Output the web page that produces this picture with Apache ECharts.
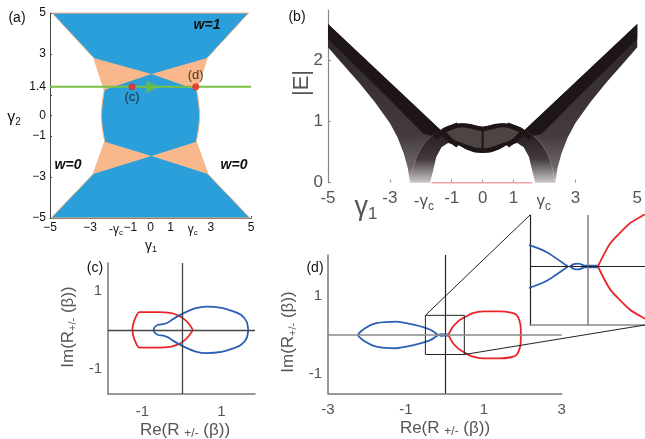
<!DOCTYPE html>
<html><head><meta charset="utf-8">
<script src="https://cdn.jsdelivr.net/npm/echarts@6/dist/echarts.min.js"></script>
<style>html,body{margin:0;background:#fff}#c{width:645px;height:439px}</style>
</head><body><div id="c"></div>
<script>
const FONT = '"Liberation Sans", Arial, sans-serif';
const GRAY = '#555';

// ── (a) phase diagram ──
const A_X_TICKS = [-5, -3, -1, 0, 1, 3, 5];
const A_X_LABEL_AT = [-5, -3, -1.72, -1, 0, 1, 2.1, 3, 5];
const A_X_LABELS = ['−5', '−3', '-γ{s|c}', '−1', '0', '1', 'γ{s|c}', '3', '5'];
const A_Y_AT = [5, 3, 1.4, 0, -1, -3, -5];
const A_Y_LABELS = ['5', '3', '1.4', '0', '−1', '−3', '−5'];
const A_BLUE = [[-4.9, 5], [4.88, 5], [2.82, 2.8], [2.3, 1.25], [2.4, 0.6], [2.45, 0], [2.4, -0.6], [2.28, -1.28],
  [2.85, -2.85], [4.95, -5], [-4.95, -5], [-2.85, -2.85], [-2.28, -1.28], [-2.4, -0.6], [-2.45, 0], [-2.4, 0.6], [-2.3, 1.25], [-2.82, 2.8]];
const A_OR_TL = [[-2.82, 2.8], [0.05, 2.02], [-2.3, 1.25]];
const A_OR_TR = [[2.82, 2.8], [0.05, 2.02], [2.3, 1.25]];
const A_OR_BL = [[-2.85, -2.85], [0.05, -1.98], [-2.28, -1.28]];
const A_OR_BR = [[2.85, -2.85], [0.05, -1.98], [2.28, -1.28]];
const A_PATH = [[-5, 1.4], [5, 1.4]];
const A_ARROW = [[0.1, 1.4]];
const A_POINTS = [[-0.92, 1.4], [2.25, 1.4]];
const A_POINT_NAMES = ['(c)', '(d)'];

// ── (b) |E| vs gamma1 ──
const B_X_TICKS = [-3, -1, 0, 1, 3];
const B_X_LABEL_AT = [-5, -3, -1.9, -1, 0, 1, 1.98, 3, 5];
const B_X_LABELS = ['-5', '-3', '-γ{s|c}', '-1', '0', '1', 'γ{s|c}', '3', '5'];
const B_Y_AT = [0, 1, 2];
const B_ARM_L = [[-5, 2.6], [-1.35, 0.86], [-1.65, 0.77], [-1.9, 0.64], [-2.1, 0.47], [-2.25, 0.25], [-2.35, 0],
  [-2.42, 0.24], [-2.55, 0.48], [-2.75, 0.74], [-3, 0.98], [-3.5, 1.33], [-4, 1.64], [-4.5, 1.93], [-5, 2.22]];
const B_ARM_R = [[5, 2.6], [1.35, 0.86], [1.65, 0.77], [1.9, 0.64], [2.1, 0.47], [2.25, 0.25], [2.35, 0],
  [2.42, 0.24], [2.55, 0.48], [2.75, 0.74], [3, 0.98], [3.5, 1.33], [4, 1.64], [4.5, 1.93], [5, 2.22]];
const B_DENSE_L = [[-5, 2.6], [-1.35, 0.86], [-1.65, 0.77], [-1.9, 0.8], [-2.3, 1.0], [-3, 1.36], [-4, 1.86], [-5, 2.36]];
const B_DENSE_R = [[5, 2.6], [1.35, 0.86], [1.65, 0.77], [1.9, 0.8], [2.3, 1.0], [3, 1.36], [4, 1.86], [5, 2.36]];
const B_ARCH_L = [[-2.35, 0], [-2.25, 0.25], [-2.1, 0.47], [-1.9, 0.64], [-1.65, 0.77], [-1.35, 0.86], [-0.96, 0.63],
  [-1.12, 0.65], [-1.33, 0.58], [-1.5, 0.42], [-1.6, 0.2], [-1.7, 0]];
const B_ARCH_R = [[2.35, 0], [2.25, 0.25], [2.1, 0.47], [1.9, 0.64], [1.65, 0.77], [1.35, 0.86], [0.96, 0.63],
  [1.12, 0.65], [1.33, 0.58], [1.5, 0.42], [1.6, 0.2], [1.7, 0]];
const B_LENS_TOP = [[-1.35, 0.86], [-1.1, 0.93], [-0.85, 0.965], [-0.64, 0.975], [-0.4, 0.96], [-0.18, 0.935], [0, 0.915],
  [0.18, 0.935], [0.4, 0.96], [0.64, 0.975], [0.85, 0.965], [1.1, 0.93], [1.35, 0.86]];
const B_LENS_TOP_IN = [[-1.2, 0.85], [-0.85, 0.9], [-0.64, 0.91], [-0.4, 0.89], [-0.18, 0.86], [0, 0.84],
  [0.18, 0.86], [0.4, 0.89], [0.64, 0.91], [0.85, 0.9], [1.2, 0.85]];
const B_LENS_BOT = [[0.96, 0.63], [0.75, 0.61], [0.54, 0.55], [0.27, 0.5], [0, 0.485], [-0.27, 0.5], [-0.54, 0.55], [-0.75, 0.61], [-0.96, 0.63]];
const B_LENS_BOT_IN = [[0.9, 0.69], [0.7, 0.66], [0.5, 0.62], [0.25, 0.575], [0, 0.56], [-0.25, 0.575], [-0.5, 0.62], [-0.7, 0.66], [-0.9, 0.69]];
const B_CROSS = [
  [[-1.35, 0.86], [-1.05, 0.7], [-0.8, 0.61]], [[-1.55, 0.74], [-1.2, 0.87], [-0.8, 0.95]],
  [[1.35, 0.86], [1.05, 0.7], [0.8, 0.61]], [[1.55, 0.74], [1.2, 0.87], [0.8, 0.95]]];
const B_CENTER = [[0, 0.5], [0, 0.9]];
const B_ZERO = [[-1.65, 0], [1.6, 0]];

// ── (c) ──
const C_RED = [[0.28, 0], [0.18, 0.15], [0.05, 0.28], [-0.1, 0.37], [-0.3, 0.43], [-0.6, 0.45], [-1.08, 0.45], [-1.17, 0.32],
  [-1.23, 0.15], [-1.25, 0], [-1.23, -0.15], [-1.17, -0.32], [-1.08, -0.45], [-0.6, -0.45], [-0.3, -0.43], [-0.1, -0.37],
  [0.05, -0.28], [0.18, -0.15], [0.28, 0]];
const C_BLUE = [[1.68, 0], [1.64, 0.21], [1.5, 0.38], [1.3, 0.47], [1.0, 0.56], [0.62, 0.59], [0.35, 0.55], [0.1, 0.45],
  [-0.1, 0.35], [-0.25, 0.26], [-0.33, 0.2], [-0.45, 0.15], [-0.6, 0.13], [-0.68, 0.08], [-0.71, 0], [-0.68, -0.08],
  [-0.6, -0.13], [-0.45, -0.15], [-0.33, -0.2], [-0.25, -0.26], [-0.1, -0.35], [0.1, -0.45], [0.35, -0.55], [0.62, -0.59],
  [1.0, -0.56], [1.3, -0.47], [1.5, -0.38], [1.64, -0.21], [1.68, 0]];
const C_X_AT = [-1, 1], C_X_LABELS = ['-1', '1'];
const C_Y_AT = [1, -1], C_Y_LABELS = ['1', '-1'];

// ── (d) ──
const D_BLUE = [[-0.17, 0], [-0.35, 0.12], [-0.5, 0.18], [-0.8, 0.26], [-1.24, 0.34], [-1.76, 0.3], [-2.05, 0.17], [-2.23, 0],
  [-2.05, -0.17], [-1.76, -0.3], [-1.24, -0.34], [-0.8, -0.26], [-0.5, -0.18], [-0.35, -0.12], [-0.17, 0]];
const D_BLUE_LOOP = [[-0.15, 0], [-0.12, 0.02], [-0.08, 0.025], [-0.04, 0.012], [-0.03, 0], [-0.04, -0.012], [-0.08, -0.025], [-0.12, -0.02], [-0.15, 0]];
const D_BLUE_SEG = [[-0.04, 0], [0.09, 0]];
const D_RED = [[0.09, 0], [0.2, 0.2], [0.37, 0.37], [0.47, 0.43], [0.7, 0.55], [1.0, 0.6], [1.4, 0.6], [1.7, 0.57], [1.84, 0.51],
  [1.92, 0.35], [1.95, 0.15], [1.95, 0], [1.95, -0.15], [1.92, -0.35], [1.84, -0.51], [1.7, -0.57], [1.4, -0.6], [1.0, -0.6],
  [0.7, -0.55], [0.47, -0.43], [0.37, -0.37], [0.2, -0.2], [0.09, 0]];
const D_BOX = [[-0.5, 0.5], [0.5, 0.5], [0.5, -0.5], [-0.5, -0.5], [-0.5, 0.5]];
const D_X_AT = [-3, -1, 1, 3], D_X_LABELS = ['-3', '-1', '1', '3'];
const D_Y_AT = [1, -1], D_Y_LABELS = ['1', '-1'];
const INSET_X = [-0.5, 0.5], INSET_Y = [-0.5, 0.44];

// ── helpers ──
const lab = (at, txt) => v => { const i = at.findIndex(a => Math.abs(a - v) < 1e-6); return i >= 0 ? txt[i] : ''; };

function poly(gi, pts, fill, z, stroke, lw) {
  return {
    type: 'custom', xAxisIndex: gi, yAxisIndex: gi, silent: true, z: z || 1, data: [pts[0]],
    renderItem: (p, api) => ({
      type: 'polygon', shape: { points: pts.map(q => api.coord(q)) },
      style: { fill: fill, stroke: stroke || null, lineWidth: lw || 0 }
    })
  };
}
function line(gi, data, color, width, z, extra) {
  return Object.assign({
    type: 'line', xAxisIndex: gi, yAxisIndex: gi, data: data, symbol: 'none', silent: true, z: z || 2,
    lineStyle: { color: color, width: width }
  }, extra || {});
}
function axis(gi, min, max, o) {
  return {
    gridIndex: gi, type: 'value', min: min, max: max, splitLine: { show: false },
    axisLine: { show: o.line !== false, onZero: false, lineStyle: { color: o.lineColor || '#777', width: o.lineWidth || 1.5 } },
    axisTick: o.ticks ? { show: true, inside: true, length: o.tickLen || 3, customValues: o.ticks, lineStyle: { color: o.tickColor || '#444' } } : { show: false },
    axisLabel: o.at ? {
      customValues: o.at, formatter: lab(o.at, o.labels), color: o.color || GRAY, fontSize: o.fs || 15,
      fontFamily: FONT, margin: o.margin || 6,
      rich: { s: { fontSize: o.sub || 10, color: o.color || GRAY, fontFamily: FONT, padding: [o.subPad || 8, 0, 0, 0] } }
    } : { show: false }
  };
}

const dark = '#1e1616';
const armFill = new echarts.graphic.LinearGradient(0, 0, 0, 1, [
  { offset: 0, color: '#2c2424' }, { offset: 0.7, color: '#443c3c' }, { offset: 0.9, color: '#6e6666' }, { offset: 1, color: '#cfc9c9' }]);
const archFill = new echarts.graphic.LinearGradient(0, 0, 0, 1, [
  { offset: 0, color: '#241c1c' }, { offset: 0.55, color: '#433b3b' }, { offset: 1, color: '#cdc7c7' }]);

const series = [
  // (a)
  poly(0, A_BLUE, '#2b9fd9', 1, '#f6b78c', 1),
  poly(0, A_OR_TL, '#f9b88b', 2), poly(0, A_OR_TR, '#f9b88b', 2),
  poly(0, A_OR_BL, '#f9b88b', 2), poly(0, A_OR_BR, '#f9b88b', 2),
  line(0, A_PATH, '#77c043', 2, 3),
  { type: 'scatter', xAxisIndex: 0, yAxisIndex: 0, data: A_ARROW, symbol: 'triangle', symbolSize: [13, 12],
    symbolRotate: -90, itemStyle: { color: '#6cbf3f' }, silent: true, z: 4 },
  { type: 'scatter', xAxisIndex: 0, yAxisIndex: 0, symbolSize: 7, itemStyle: { color: '#e8262a' }, silent: true, z: 5,
    data: A_POINTS.map((p, i) => ({ value: p, label: { show: true, formatter: A_POINT_NAMES[i], position: i ? 'top' : 'bottom',
      distance: 1, color: '#111', fontSize: 13, fontFamily: FONT } })) },
  // (b)
  poly(1, B_ARM_L, armFill, 1), poly(1, B_ARM_R, armFill, 1),
  poly(1, B_ARCH_L, archFill, 1), poly(1, B_ARCH_R, archFill, 1),
  poly(1, B_LENS_TOP.concat(B_LENS_BOT), '#4d4444', 1),
  poly(1, B_DENSE_L, dark, 2), poly(1, B_DENSE_R, dark, 2),
  poly(1, B_LENS_TOP.concat(B_LENS_TOP_IN.slice().reverse()), dark, 2),
  poly(1, B_LENS_BOT.concat(B_LENS_BOT_IN.slice().reverse()), dark, 2),
  ...B_CROSS.map(c => line(1, c, dark, 5, 3)),
  line(1, B_CENTER, dark, 2, 3),
  line(1, B_ZERO, '#f2a3a3', 1.5, 4, { clip: false }),
  // (c)
  line(2, C_RED, '#e8262a', 1.8, 3, { smooth: 0.2, markLine: { silent: true, symbol: 'none', label: { show: false },
    lineStyle: { color: '#444', width: 1.3, type: 'solid' }, data: [{ xAxis: 0 }, { yAxis: 0 }] } }),
  line(2, C_BLUE, '#2c5fb3', 1.8, 3, { smooth: 0.2 }),
  // (d)
  line(3, D_BLUE, '#2c5fb3', 1.8, 3, { smooth: 0.2, markLine: { silent: true, symbol: 'none', label: { show: false },
    animation: false, data: [{ xAxis: 0, lineStyle: { color: '#222', width: 1.2, type: 'solid' } },
      { yAxis: 0, lineStyle: { color: '#888', width: 1.6, type: 'solid' } }] } }),
  line(3, D_BLUE_LOOP, '#2c5fb3', 1.5, 3, { smooth: 0.3 }),
  line(3, D_BLUE_SEG, '#2c5fb3', 3, 3),
  line(3, D_RED, '#e8262a', 1.8, 3, { smooth: 0.2 }),
  line(3, D_BOX, '#222', 1, 4),
  // inset
  line(4, D_BLUE, '#2c5fb3', 1.8, 3, { smooth: 0.2, markLine: { silent: true, symbol: 'none', label: { show: false },
    data: [{ xAxis: 0, lineStyle: { color: '#888', width: 1.6, type: 'solid' } },
      { yAxis: 0, lineStyle: { color: '#222', width: 1.2, type: 'solid' } }] } }),
  line(4, D_BLUE_LOOP, '#2c5fb3', 1.8, 3, { smooth: 0.3 }),
  line(4, D_BLUE_SEG, '#2c5fb3', 3.5, 3),
  line(4, D_RED, '#e8262a', 1.8, 3, { smooth: 0.2 })
];

const txt = (x, y, text, size, color, extra, rich) => Object.assign({
  type: 'text', x: x, y: y, silent: true, z: 100,
  style: { text: text, font: size + 'px ' + FONT, fill: color, align: 'center', verticalAlign: 'middle', rich: rich || {} }
}, extra || {});
const sub = (size, pad, color) => ({ s: { fontSize: size, fontFamily: FONT, fill: color, padding: [pad, 0, 0, 0] } });
const wLabel = (x, y, text) => ({ type: 'text', x: x, y: y, silent: true, z: 100,
  style: { text: text, font: 'italic bold 14px ' + FONT, fill: '#111', align: 'center', verticalAlign: 'middle' } });

const graphics = [
  txt(17, 18, '(a)', 14, '#111'), txt(297, 17, '(b)', 14, '#111'),
  txt(95, 268, '(c)', 14, '#111'), txt(315, 268, '(d)', 14, '#111'),
  txt(14, 118, 'γ{s|2}', 16, '#111', {}, sub(10, 8, '#111')),
  txt(151, 246, 'γ{s|1}', 14, '#111', {}, sub(9, 7, '#111')),
  wLabel(207, 25, 'w=1'), wLabel(68, 165, 'w=0'), wLabel(234, 165, 'w=0'),
  txt(302, 83, '|E|', 22, GRAY, { rotation: Math.PI / 2 }),
  txt(366, 208, 'γ{s|1}', 27, GRAY, {}, sub(17, 12, GRAY)),
  txt(68, 327, 'Im(R{s|+/-} (β))', 17, GRAY, { rotation: Math.PI / 2 }, sub(11, 10, GRAY)),
  txt(185, 430, 'Re(R {s|+/-} (β))', 17, GRAY, {}, sub(12, 8, GRAY)),
  txt(288, 332, 'Im(R{s|+/-} (β))', 17, GRAY, { rotation: Math.PI / 2 }, sub(11, 10, GRAY)),
  txt(445, 428, 'Re(R {s|+/-} (β))', 17, GRAY, {}, sub(12, 8, GRAY))
];

const chart = echarts.init(document.getElementById('c'));
chart.setOption({
  animation: false,
  grid: [
    { left: 50, top: 13, width: 201, height: 205 },
    { left: 328, top: 10, width: 317, height: 172.7 },
    { left: 108, top: 263, width: 147, height: 131 },
    { left: 328, top: 255, width: 233.7, height: 138.3 },
    { left: 530, top: 215, width: 118.6, height: 110 }
  ],
  xAxis: [
    axis(0, -5, 5, { lineColor: '#444', lineWidth: 1, ticks: A_X_TICKS, tickLen: 2, at: A_X_LABEL_AT, labels: A_X_LABELS, color: '#111', fs: 12, sub: 8, subPad: 7, margin: 4 }),
    axis(1, -5, 5, { line: false, ticks: B_X_TICKS, tickLen: 3, tickColor: '#999', at: B_X_LABEL_AT, labels: B_X_LABELS, fs: 17, sub: 12, subPad: 11, margin: 7 }),
    axis(2, -1.87, 1.85, { at: C_X_AT, labels: C_X_LABELS, fs: 15, margin: 10 }),
    axis(3, -3, 3, { at: D_X_AT, labels: D_X_LABELS, fs: 15, margin: 9 }),
    axis(4, INSET_X[0], INSET_X[1], { lineColor: '#888', lineWidth: 1.6 })
  ],
  yAxis: [
    axis(0, -5, 5, { lineColor: '#444', lineWidth: 1, ticks: A_X_TICKS.concat([1.4]), tickLen: 2, at: A_Y_AT, labels: A_Y_LABELS, color: '#111', fs: 12, margin: 4 }),
    axis(1, 0, 2.83, { lineColor: '#888', lineWidth: 1.2, ticks: B_Y_AT, tickLen: 3, tickColor: '#888', at: B_Y_AT, labels: ['0', '1', '2'], fs: 17, margin: 5 }),
    axis(2, -1.63, 1.7, { at: C_Y_AT, labels: C_Y_LABELS, fs: 15, margin: 6 }),
    axis(3, -1.49, 2.04, { at: D_Y_AT, labels: D_Y_LABELS, fs: 15, margin: 6 }),
    axis(4, INSET_Y[0], INSET_Y[1], { lineColor: '#222', lineWidth: 1.2 })
  ],
  series: series,
  graphic: graphics
});

// zoom connectors between the box in (d) and the inset
const a1 = chart.convertToPixel({ gridIndex: 3 }, D_BOX[0]);
const a2 = chart.convertToPixel({ gridIndex: 4 }, [INSET_X[0], INSET_Y[1]]);
const b1 = chart.convertToPixel({ gridIndex: 3 }, D_BOX[2]);
const b2 = chart.convertToPixel({ gridIndex: 4 }, [INSET_X[1], INSET_Y[0]]);
chart.setOption({
  graphic: graphics.concat([
    { type: 'line', silent: true, z: 100, shape: { x1: a1[0], y1: a1[1], x2: a2[0], y2: a2[1] }, style: { stroke: '#222', lineWidth: 1 } },
    { type: 'line', silent: true, z: 100, shape: { x1: b1[0], y1: b1[1], x2: b2[0], y2: b2[1] }, style: { stroke: '#222', lineWidth: 1 } }
  ])
});
</script></body></html>
